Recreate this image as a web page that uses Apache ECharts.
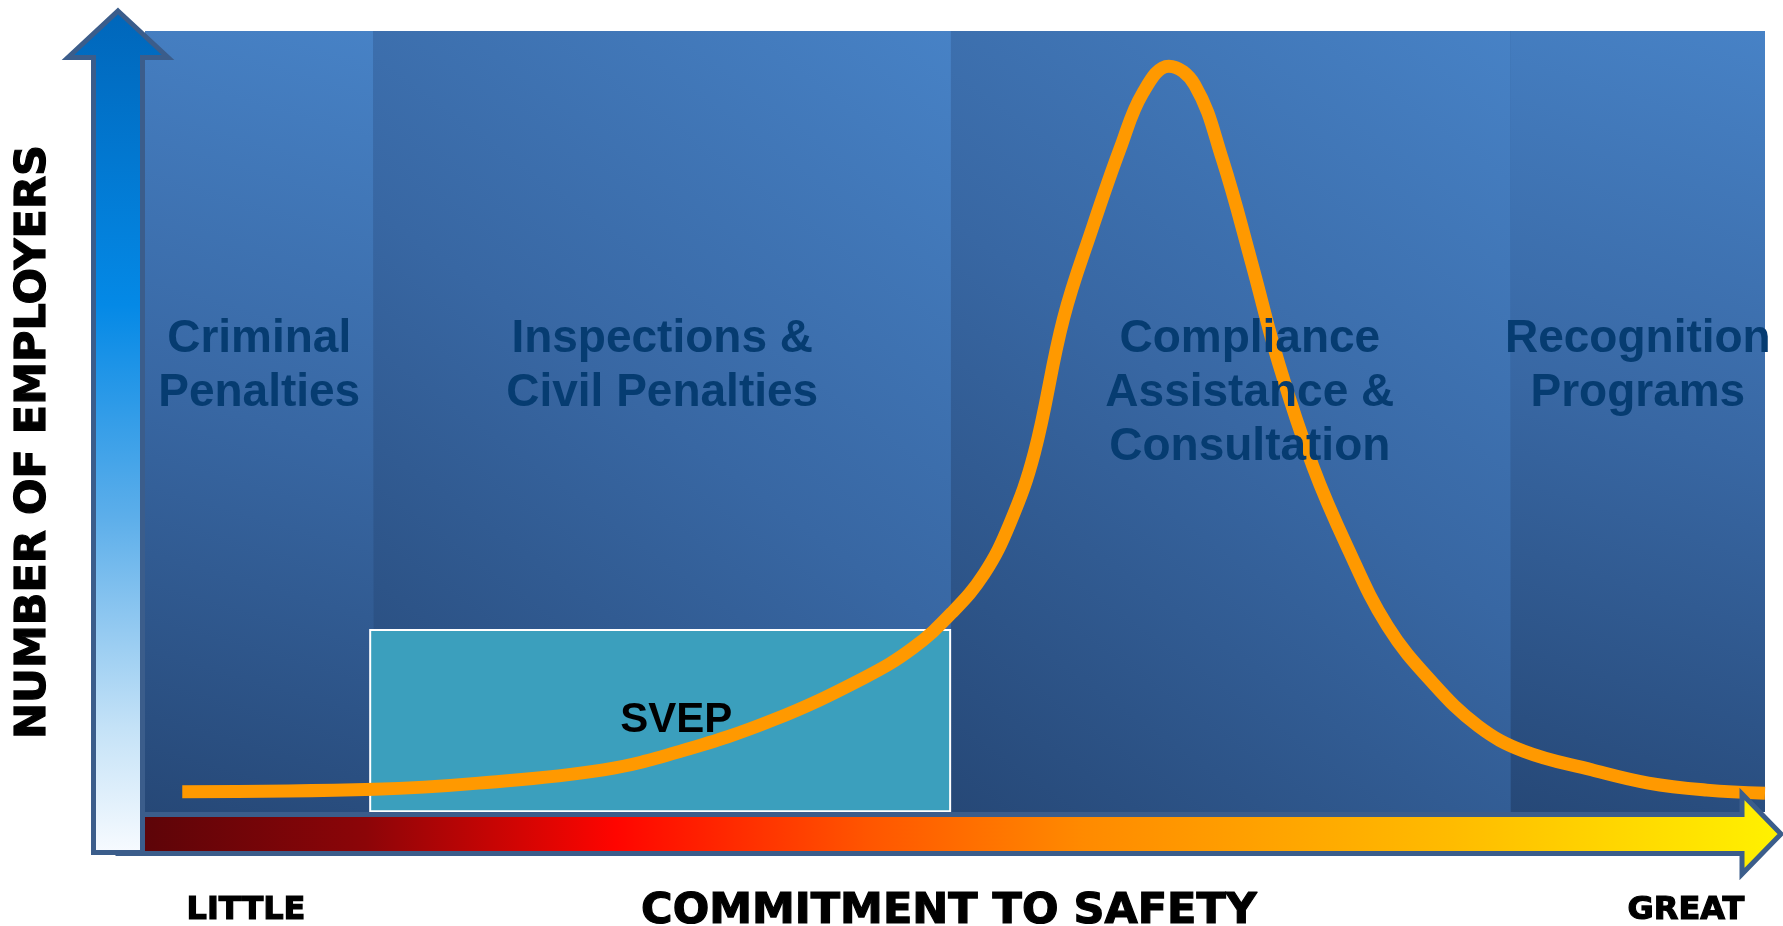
<!DOCTYPE html>
<html>
<head>
<meta charset="utf-8">
<title>Commitment to safety</title>
<script src="https://cdn.jsdelivr.net/npm/echarts@6/dist/echarts.min.js"></script>
<style>
  html, body { margin: 0; padding: 0; background: #ffffff; }
  #main { width: 1783px; height: 926px; }
</style>
</head>
<body>
<div id="main"></div>
<script>
// regions along the "commitment" scale (0 = little, 100 = great)
const bandNames = ['Criminal\nPenalties', 'Inspections &\nCivil Penalties', 'Compliance\nAssistance &\nConsultation', 'Recognition\nPrograms'];
const bandEdges = [0, 14.1, 49.75, 84.3, 100];

// SVEP box
const svepName = 'SVEP';
const svepX = [13.9, 49.7];
const svepY = [0.1, 23.3];

// number of employers curve
const curveX = [2.3, 14.2, 20.6, 28.3, 33.1, 38.8, 44.4, 47.4, 49.8, 51.8, 53.4, 54.9, 56.7, 58.5, 60.2, 61.6, 63.2,
  64.8, 66.5, 68.3, 70.0, 72.1, 74.2, 76.7, 79.5, 82.3, 85.1, 89.3, 92.8, 96.4, 100];
const curveY = [2.6, 2.9, 3.7, 5.4, 7.8, 11.8, 17.2, 21.0, 25.5, 30.5, 37.0, 46.0, 63.2, 74.9, 85.0, 92.1, 95.5,
  93.1, 83.6, 70.4, 57.3, 44.2, 34.0, 23.8, 16.5, 11.0, 7.8, 5.4, 3.7, 2.8, 2.4];

// axis texts
const xTitle = 'COMMITMENT TO SAFETY';
const yTitle = 'NUMBER OF EMPLOYERS';
const scaleEnds = ['LITTLE', 'GREAT'];

const chart = echarts.init(document.getElementById('main'));

const fontName = "'Liberation Sans', Arial, sans-serif";
const heavyFont = "'DejaVu Sans', sans-serif";
const panelFill = {
  type: 'linear', x: 0, y: 1, x2: 1, y2: 0,
  colorStops: [
    { offset: 0, color: '#264877' },
    { offset: 0.5, color: '#3867a3' },
    { offset: 1, color: '#4782c6' }
  ]
};

// same band rectangles, used once for the fill and once (on top of the curve) for the names
function bandData(withNames) {
  return bandNames.map((name, i) => [
    { name: withNames ? name : '', xAxis: bandEdges[i], yAxis: 0, label: { offset: i === 2 ? [19, 0] : [0, 0] } },
    { xAxis: bandEdges[i + 1], yAxis: 100 }
  ]);
}

function heavyText(text, x, y, size, rotation) {
  return {
    type: 'text',
    z: 102,
    x: x,
    y: y,
    rotation: rotation || 0,
    silent: true,
    style: {
      text: text,
      font: 'bold ' + size + 'px ' + heavyFont,
      fill: '#000000',
      stroke: '#000000',
      lineWidth: 1.2,
      textAlign: 'center',
      textVerticalAlign: 'middle'
    }
  };
}

const option = {
  animation: false,
  grid: { left: 145, right: 18, top: 31, bottom: 114, show: true, backgroundColor: '#33619b', borderWidth: 0 },
  xAxis: { type: 'value', min: 0, max: 100, show: false },
  yAxis: { type: 'value', min: 0, max: 100, show: false },
  series: [
    {
      type: 'line',
      data: [],
      silent: true,
      markArea: {
        z: 1,
        silent: true,
        itemStyle: { color: panelFill },
        label: { show: false },
        data: bandData(false)
      }
    },
    {
      type: 'line',
      data: [],
      silent: true,
      markArea: {
        z: 2,
        silent: true,
        itemStyle: { color: '#3b9fbd', borderColor: '#ffffff', borderWidth: 2 },
        label: {
          position: 'inside',
          offset: [16, 0],
          color: '#000000',
          fontFamily: fontName,
          fontSize: 42,
          fontWeight: 'bold'
        },
        data: [[
          { name: svepName, xAxis: svepX[0], yAxis: svepY[0] },
          { xAxis: svepX[1], yAxis: svepY[1] }
        ]]
      }
    },
    {
      type: 'line',
      z: 3,
      silent: true,
      data: curveX.map((x, i) => [x, curveY[i]]),
      smooth: 0.4,
      showSymbol: false,
      lineStyle: { color: '#ff9900', width: 13 }
    },
    {
      type: 'line',
      data: [],
      silent: true,
      markArea: {
        z: 10,
        silent: true,
        itemStyle: { color: 'rgba(0,0,0,0)' },
        label: {
          position: 'insideTop',
          distance: 281,
          color: '#063c71',
          fontFamily: fontName,
          fontSize: 46,
          fontWeight: 'bold',
          lineHeight: 54,
          align: 'center'
        },
        data: bandData(true)
      }
    }
  ],
  graphic: [
    // horizontal arrow (commitment)
    {
      type: 'polygon',
      z: 100,
      silent: true,
      shape: { points: [[118, 814.5], [1742, 814.5], [1742, 794], [1781, 834], [1742, 874], [1742, 853.5], [118, 853.5]] },
      style: {
        stroke: '#3b5d8b',
        lineWidth: 5,
        fill: {
          type: 'linear', x: 0, y: 0, x2: 1, y2: 0,
          colorStops: [
            { offset: 0, color: '#570408' },
            { offset: 0.15, color: '#8c0508' },
            { offset: 0.30, color: '#ff0500' },
            { offset: 0.45, color: '#ff5500' },
            { offset: 0.58, color: '#ff8a00' },
            { offset: 0.80, color: '#ffbb00' },
            { offset: 1, color: '#fff200' }
          ]
        }
      }
    },
    // vertical arrow (employers)
    {
      type: 'polygon',
      z: 101,
      silent: true,
      shape: { points: [[118, 11], [168, 57.5], [142.5, 57.5], [142.5, 852.5], [93.5, 852.5], [93.5, 57.5], [68, 57.5]] },
      style: {
        stroke: '#3b5d8b',
        lineWidth: 5,
        fill: {
          type: 'linear', x: 0, y: 0, x2: 0, y2: 1,
          colorStops: [
            { offset: 0, color: '#0066ba' },
            { offset: 0.35, color: '#0489e6' },
            { offset: 0.6, color: '#5caeea' },
            { offset: 0.85, color: '#c4e2f7' },
            { offset: 1, color: '#f8fbff' }
          ]
        }
      }
    },
    heavyText(yTitle, 34, 442, 43, Math.PI / 2),
    heavyText(xTitle, 949, 912, 43),
    heavyText(scaleEnds[0], 246, 911, 32),
    heavyText(scaleEnds[1], 1686, 911, 32)
  ]
};

chart.setOption(option);
</script>
</body>
</html>
